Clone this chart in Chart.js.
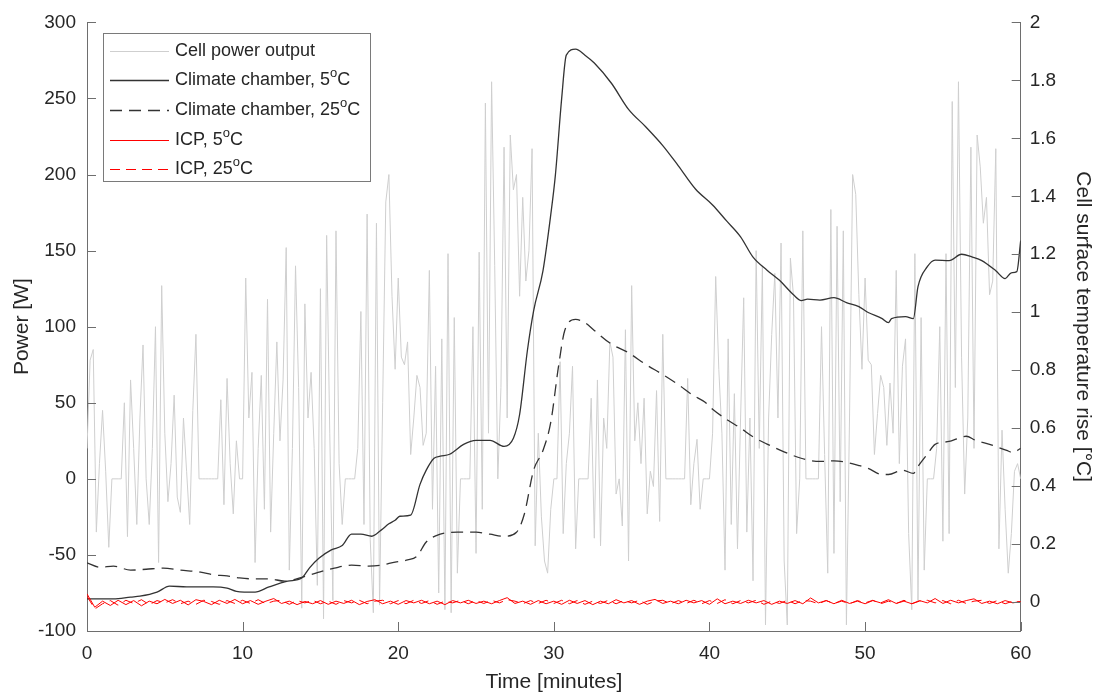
<!DOCTYPE html>
<html>
<head>
<meta charset="utf-8">
<title>Cell power output and surface temperature rise</title>
<script src="https://cdn.jsdelivr.net/npm/chart.js@4.4.0/dist/chart.umd.min.js"></script>
<style>
	html, body { margin: 0; padding: 0; background: #fff; }
	#quadro { width: 1103px; height: 698px; }
</style>
</head>
<body>
<div id="quadro"><canvas id="graficoTemperatura"></canvas></div>
<script>
// limites dos eixos
var eixoTempo = [0, 60];
var eixoPotencia = [-100, 300];
var eixoTemperatura = [-0.1, 2];

var rotulosSeries = ['Cell power output', 'Climate chamber, 5°C', 'Climate chamber, 25°C', 'ICP, 5°C', 'ICP, 25°C'];

// potencia da celula [W], uma leitura a cada 0.2 min
var PASSO_POTENCIA = 0.2;
var potenciaCelula = [
	20, 78, 85, -35, 10, 45, 5, -45, 0, 0, 0, 0, 50, -38, 65, 20, -30, 40, 88, 0,
	-30, 20, 100, -55, 127, 30, -15, 10, 55, -12, -22, 40, 5, -30, 45, 95, 0, 0, 0, 0,
	0, 0, 0, 52, -17, 66, 10, -23, 25, 0,
	0, 132, 40, 70, -55, 20, 68, -20, 118, -35, 30, 90, 25, 65, 152, -60, 20, 140, 60, -85,
	115, 40, 70, 20, -70, 125, -92, 160, 30, -80, 163, 10, -30, 0, 0, 0, 0, 20, 110, -30,
	174, -40, -88, 168, -83, 50, 182, 200, 120, 72,
	132, 80, 75, 90, 16, 40, 68, 60, 22, 30, 137, -20, 74, -75, 92, -86, 148, -88, 106, -62,
	0, 0, 0, 0, 100, -49, 149, -20, 247, 30, 261, 140, 0, 60, 218, 40, 226, 190, 200, 120,
	185, 130, 150, 217, -44, 30, -25, -54, -62, -20,
	0, 0, 77, -36, 10, 30, 74, -46, 0, 0, 0, 0, 53, -39, 65, -44, 40, 20, 90, 80,
	-10, 0, -31, 98, -54, 127, 25, 50, 10, 53, -23, 5, -5, 58, -28, 95, 0, 0, 0, 0,
	0, 0, 0, 66, -17, 10, 26, -20, 0, 0,
	0, 30, 133, 72, 30, -60, 92, -30, 56, -46, 40, 119, -35, 40, -67, 150, 20, 140, -96, 40,
	95, 135, 40, 155, -54, -96, 145, 120, -36, 0, 163, 0, 0, 0, 0, 0, 100, 16, -62, 177,
	-49, 166, -15, 163, -96, 40, 200, 187, 121, 72,
	132, 78, 75, 16, 43, 68, 60, 22, 63, 30, 137, 10, 74, 92, -36, -86, 148, -80, 106, -60,
	0, 0, 0, 20, 100, -41, 148, -36, 248, 60, 261, 80, -10, 40, 218, 20, 226, 205, 168, 185,
	121, 130, 217, -46, 32, -20, -62, -36, 5, 10, 0
];

// camara climatica 5 oC [oC]
var tempoCamara5 = [0, 1.7, 2.8, 3.4, 4.5, 5.3, 6.4, 8.1, 9.0, 9.6, 10.8, 11.7, 12.9, 13.8, 14.3, 14.9, 15.7, 16.4, 17.0, 17.6,
	18.3, 18.9, 19.4, 19.8, 20.1, 20.8, 21.4, 21.8, 22.3, 22.7, 23.3, 24.2, 25.0, 25.9, 26.8, 27.4, 27.8, 28.3, 28.7, 29.3,
	29.8, 30.1, 30.5, 30.8, 31.4, 32.0, 32.6, 33.7, 34.8, 35.9, 37.0, 38.0, 39.1, 40.2, 41.1, 42.0, 42.8, 43.7, 44.5, 45.4,
	45.9, 46.3, 47.1, 48.0, 48.8, 49.6, 50.2, 51.1, 51.5, 51.7, 52.6, 53.1, 53.4, 54.0, 54.5, 55.4, 56.2, 56.9, 57.5, 58.4,
	59.0, 59.4, 59.75, 60];
var tempCamara5 = [0.011, 0.011, 0.017, 0.020, 0.034, 0.055, 0.052, 0.052, 0.048, 0.037, 0.034, 0.052, 0.072, 0.083, 0.118, 0.151, 0.180, 0.195, 0.234, 0.234,
	0.227, 0.248, 0.270, 0.282, 0.296, 0.300, 0.406, 0.455, 0.496, 0.503, 0.510, 0.544, 0.558, 0.558, 0.537, 0.565, 0.647, 0.868, 1.005, 1.143,
	1.336, 1.474, 1.736, 1.887, 1.908, 1.887, 1.860, 1.790, 1.700, 1.640, 1.575, 1.505, 1.425, 1.370, 1.315, 1.260, 1.190, 1.145, 1.110, 1.060,
	1.040, 1.045, 1.042, 1.050, 1.033, 1.019, 0.999, 0.978, 0.964, 0.978, 0.985, 0.978, 1.088, 1.157, 1.180, 1.178, 1.200, 1.190, 1.178, 1.143,
	1.116, 1.136, 1.140, 1.247];

// camara climatica 25 oC [oC]
var tempoCamara25 = [0, 0.85, 1.7, 2.8, 3.8, 4.9, 6.0, 7.3, 8.1, 9.0, 9.8, 10.6, 11.7, 12.7, 13.8, 14.9, 15.9, 17.0, 18.1, 18.9,
	19.8, 20.6, 21.2, 21.8, 22.7, 23.8, 25.0, 25.9, 26.8, 27.6, 28.1, 28.7, 29.3, 29.8, 30.3, 30.7, 31.4, 32.0, 32.6, 33.7,
	34.8, 35.9, 37.0, 38.0, 38.9, 39.7, 40.2, 41.1, 42.0, 42.8, 43.7, 44.5, 45.4, 46.3, 47.1, 48.0, 48.8, 49.6, 50.2, 51.1,
	51.5, 52.4, 53.1, 53.4, 54.0, 54.5, 55.4, 56.0, 56.5, 57.1, 58.0, 59.1, 59.5, 60];
var tempCamara25 = [0.135, 0.120, 0.124, 0.110, 0.113, 0.117, 0.110, 0.103, 0.094, 0.090, 0.083, 0.080, 0.080, 0.072, 0.085, 0.103, 0.117, 0.127, 0.124, 0.127,
	0.138, 0.145, 0.158, 0.207, 0.234, 0.241, 0.241, 0.234, 0.227, 0.241, 0.303, 0.455, 0.523, 0.620, 0.813, 0.937, 0.975, 0.964, 0.937, 0.890,
	0.860, 0.820, 0.785, 0.750, 0.715, 0.690, 0.665, 0.630, 0.600, 0.570, 0.545, 0.525, 0.505, 0.490, 0.485, 0.487, 0.482, 0.471, 0.461, 0.440,
	0.440, 0.455, 0.444, 0.468, 0.510, 0.544, 0.554, 0.565, 0.572, 0.558, 0.544, 0.523, 0.516, 0.530];

// ICP [oC], uma leitura a cada 0.5 min
var PASSO_ICP = 0.5;
var icp5 = [
	0.028, -0.018, 0.003, -0.012, 0.006, -0.009, 0.005, -0.013, 0.003, -0.006, 0.009, -0.005, 0.006, -0.010, 0.008, 0.002, -0.009, 0.006, -0.005, 0.009,
	-0.006, 0.005, -0.008, 0.003, 0.012, -0.005, 0.003, -0.009, 0.002, -0.006, 0.005, -0.008, 0.003, -0.005, 0.006, -0.009, 0.002, 0.008, -0.006, 0.003,
	-0.008, 0.005, -0.003, 0.006, -0.006, 0.003, -0.009, 0.005, -0.003, 0.006, -0.005, 0.003, -0.006, 0.005, 0.015, -0.005, 0.003, -0.008, 0.005, -0.006,
	0.003, -0.008, 0.006, -0.005, 0.005, -0.009, 0.003, -0.006, 0.008, -0.003, 0.005, -0.008, 0.003, 0.009, -0.005, 0.003, -0.006, 0.006, -0.003, 0.005,
	-0.008, 0.011, -0.006, 0.003, -0.005, 0.006, -0.003, 0.005, -0.008, 0.003, -0.005, 0.005, -0.006, 0.014, -0.003, 0.005, -0.006, 0.006, -0.005, 0.003,
	-0.006, 0.005, -0.003, 0.008, -0.005, 0.003, -0.006, 0.005, -0.003, 0.012, -0.005, 0.006, -0.003, 0.005, 0.011, -0.005, 0.003, -0.006, 0.005, -0.003,
	0.002
];
var icp25 = [
	0.020, -0.024, -0.006, 0.005, -0.011, 0.006, -0.005, 0.008, -0.009, 0.005, -0.003, 0.008, -0.006, 0.003, -0.008, 0.006, 0.002, -0.008, 0.005, -0.005,
	0.006, -0.005, 0.008, -0.006, 0.003, 0.006, -0.008, 0.005, -0.003, 0.006, -0.006, 0.003, -0.008, 0.005, -0.003, 0.006, -0.006, 0.003, 0.006, -0.006,
	0.005, -0.006, 0.006, -0.005, 0.005, -0.008, 0.003, -0.003, 0.006, -0.006, 0.005, -0.005, 0.006, -0.003, 0.008, 0.003, -0.006, 0.005, -0.005, 0.006,
	-0.005, 0.006, -0.006, 0.005, -0.008, 0.003, -0.005, 0.006, -0.006, 0.005, -0.003, 0.006, -0.008, 0.003, 0.006, -0.006, 0.005, -0.005, 0.006, -0.006,
	0.005, -0.005, 0.008, -0.006, 0.005, -0.003, 0.006, -0.008, 0.003, -0.005, 0.006, -0.006, 0.005, 0.003, -0.006, 0.005, -0.005, 0.003, -0.006, 0.005,
	-0.003, 0.006, -0.006, 0.003, -0.005, 0.006, -0.006, 0.003, 0.006, -0.003, 0.005, -0.006, 0.006, -0.005, 0.003, 0.006, -0.005, 0.005, -0.006, 0.003,
	0.000
];

var FONTE = '"Liberation Sans", Arial, Helvetica, sans-serif';
var COR_TEXTO = '#262626';
var COR_EIXO = '#6e6e6e';

// estilo de cada serie, na ordem de rotulosSeries
var coresSeries = ['#cfcfcf', '#333333', '#333333', '#ff0000', '#ff0000'];
var tracosSeries = [[], [], [12, 7], [], [10, 6]];
var espessurasSeries = [1, 1.3, 1.3, 1, 1];

var Resketch = Resketch || {};

Resketch.GraficoTemperatura = (function() {
	function GraficoTemperatura() {
		this.ctx = document.getElementById('graficoTemperatura').getContext('2d');
	}

	GraficoTemperatura.prototype.iniciar = function() {
		Chart.defaults.font.family = FONTE;
		Chart.defaults.color = COR_TEXTO;

		var series = [
			serieUniforme(potenciaCelula, PASSO_POTENCIA),
			pares(tempoCamara5, tempCamara5),
			pares(tempoCamara25, tempCamara25),
			serieUniforme(icp5, PASSO_ICP),
			serieUniforme(icp25, PASSO_ICP)
		];
		var eixos = ['y', 'y1', 'y1', 'y1', 'y1'];
		var ordens = [10, 3, 2, 1, 0];

		var datasets = series.map(function(dados, i) {
			return {
				label: rotulosSeries[i],
				data: dados,
				yAxisID: eixos[i],
				borderColor: coresSeries[i],
				borderWidth: espessurasSeries[i],
				borderDash: tracosSeries[i],
				cubicInterpolationMode: (i === 1 || i === 2) ? 'monotone' : 'default',
				order: ordens[i]
			};
		});

		new Chart(this.ctx, {
			type: 'line',
			data: { datasets: datasets },
			options: {
				responsive: true,
				maintainAspectRatio: false,
				animation: false,
				layout: { padding: { top: 17.6, right: 0, bottom: 0, left: 0 } },
				elements: { point: { radius: 0 }, line: { tension: 0 } },
				plugins: {
					legend: { display: false },
					tooltip: { enabled: false }
				},
				scales: {
					x: {
						type: 'linear',
						min: eixoTempo[0],
						max: eixoTempo[1],
						ticks: { stepSize: 10, padding: 11, font: { size: 19 }, color: COR_TEXTO, maxRotation: 0 },
						grid: { display: false, drawTicks: false },
						border: { display: true, color: COR_EIXO, width: 1 },
						title: { display: true, text: 'Time [minutes]', font: { size: 21 }, color: COR_TEXTO, padding: { top: 0, bottom: 3 } },
						afterFit: function(escala) { escala.height = 67; }
					},
					y: {
						position: 'left',
						min: eixoPotencia[0],
						max: eixoPotencia[1],
						ticks: { stepSize: 50, padding: 11, font: { size: 19 }, color: COR_TEXTO },
						grid: { display: false, drawTicks: false },
						border: { display: true, color: COR_EIXO, width: 1 },
						title: { display: true, text: 'Power [W]', font: { size: 21 }, color: COR_TEXTO, padding: { top: 10, bottom: 0 } },
						afterFit: function(escala) { escala.width = 87; }
					},
					y1: {
						position: 'right',
						min: eixoTemperatura[0],
						max: eixoTemperatura[1],
						ticks: {
							stepSize: 0.2,
							includeBounds: false,
							padding: 9,
							font: { size: 19 },
							color: COR_TEXTO,
							callback: function(valor) { return String(Math.round(valor * 10) / 10); }
						},
						grid: { display: false, drawTicks: false },
						border: { display: true, color: COR_EIXO, width: 1 },
						title: { display: true, text: 'Cell surface temperature rise [°C]', font: { size: 21 }, color: COR_TEXTO, padding: { top: 8, bottom: 0 } },
						afterFit: function(escala) { escala.width = 82.3; }
					}
				}
			},
			plugins: [marcasInternas, legendaInterna]
		});
	}

	function serieUniforme(valores, passo) {
		return valores.map(function(v, i) {
			return { x: Math.round(i * passo * 100) / 100, y: v };
		});
	}

	function pares(tempos, valores) {
		return valores.map(function(v, i) {
			return { x: tempos[i], y: v };
		});
	}

	// marcas de escala para dentro, como no original
	var marcasInternas = {
		id: 'marcasInternas',
		afterDatasetsDraw: function(chart) {
			var ctx = chart.ctx;
			var area = chart.chartArea;
			var comprimento = 9;
			ctx.save();
			ctx.strokeStyle = COR_EIXO;
			ctx.lineWidth = 1;
			ctx.beginPath();
			chart.scales.x.ticks.forEach(function(t) {
				var px = Math.round(chart.scales.x.getPixelForValue(t.value)) + 0.5;
				ctx.moveTo(px, area.bottom);
				ctx.lineTo(px, area.bottom - comprimento);
			});
			chart.scales.y.ticks.forEach(function(t) {
				var py = Math.round(chart.scales.y.getPixelForValue(t.value)) + 0.5;
				ctx.moveTo(area.left, py);
				ctx.lineTo(area.left + comprimento, py);
			});
			chart.scales.y1.ticks.forEach(function(t) {
				var py = Math.round(chart.scales.y1.getPixelForValue(t.value)) + 0.5;
				ctx.moveTo(area.right, py);
				ctx.lineTo(area.right - comprimento, py);
			});
			ctx.stroke();
			ctx.restore();
		}
	};

	// legenda dentro da area do grafico, canto superior esquerdo
	var legendaInterna = {
		id: 'legendaInterna',
		afterDraw: function(chart) {
			var ctx = chart.ctx;
			var x0 = 103.5, y0 = 33.5, largura = 267, altura = 148;
			ctx.save();
			ctx.fillStyle = '#ffffff';
			ctx.fillRect(x0, y0, largura, altura);
			ctx.strokeStyle = '#7a7a7a';
			ctx.lineWidth = 1;
			ctx.strokeRect(x0, y0, largura, altura);
			rotulosSeries.forEach(function(rotulo, i) {
				var y = Math.round(50.7 + i * 29.6) + 0.5;
				ctx.strokeStyle = coresSeries[i];
				ctx.lineWidth = espessurasSeries[i];
				ctx.setLineDash(tracosSeries[i]);
				ctx.beginPath();
				ctx.moveTo(110, y);
				ctx.lineTo(169, y);
				ctx.stroke();
				ctx.setLineDash([]);
				escreverComSobrescrito(ctx, rotulo, 175, y, 18);
			});
			ctx.restore();
		}
	};

	function escreverComSobrescrito(ctx, texto, x, y, tamanho) {
		var partes = texto.split('°');
		ctx.fillStyle = COR_TEXTO;
		ctx.textBaseline = 'middle';
		ctx.textAlign = 'left';
		ctx.font = tamanho + 'px ' + FONTE;
		ctx.fillText(partes[0], x, y);
		if (partes.length < 2) return;
		x += ctx.measureText(partes[0]).width;
		ctx.font = Math.round(tamanho * 0.72) + 'px ' + FONTE;
		ctx.fillText('o', x, y - tamanho * 0.4);
		x += ctx.measureText('o').width;
		ctx.font = tamanho + 'px ' + FONTE;
		ctx.fillText(partes[1], x, y);
	}

	return GraficoTemperatura;
})();

window.addEventListener('load', function() {
	var graficoTemperatura = new Resketch.GraficoTemperatura();
	graficoTemperatura.iniciar();
});
</script>
</body>
</html>
